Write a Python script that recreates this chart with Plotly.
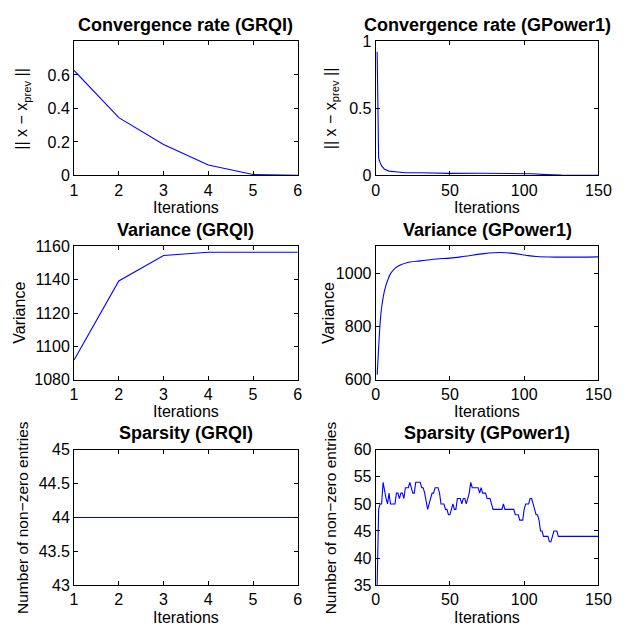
import plotly.graph_objects as go

# ---------------- data ----------------
grqi_iter = [1, 2, 3, 4, 5, 6]
grqi_conv = [0.627, 0.345, 0.185, 0.062, 0.005, 0.0]
grqi_var = [1091.9, 1139.3, 1154.6, 1156.5, 1156.5, 1156.5]
grqi_nnz = [44, 44, 44, 44, 44, 44]

gp_conv_iter = [1, 2, 3, 4, 6, 9, 15, 20, 30, 50, 70, 100, 105, 115, 125, 150]
gp_conv = [0.92, 0.13, 0.095, 0.07, 0.045, 0.032, 0.025, 0.02, 0.02, 0.015,
           0.016, 0.014, 0.012, 0.006, 0.002, 0.0]

gp_var_iter = [1, 2, 3, 4, 6, 8, 10, 13, 17, 21, 30, 41, 50, 60, 73, 84, 93,
               101, 108, 123, 150]
gp_var = [619, 720, 812, 870, 935, 972, 998, 1018, 1031, 1039, 1046, 1053,
          1056, 1063, 1073, 1077, 1074, 1067, 1062, 1060, 1061]

gp_nnz = [
    35, 49, 50, 50, 54, 52, 51, 50, 52, 50,      # 1-10
    50, 50, 50, 52, 52, 51, 52, 52, 51, 53,      # 11-20
    53, 53, 54, 53, 52, 52, 54, 54, 54, 54,      # 21-30
    53, 53, 52, 50, 49, 50, 51, 52, 52, 53,      # 31-40
    53, 53, 52, 50, 50, 50, 49, 49, 48, 48,      # 41-50
    49, 50, 49, 49, 51, 51, 51, 50, 51, 51,      # 51-60
    50, 51, 52, 54, 53, 53, 53, 53, 53, 52,      # 61-70
    53, 52, 52, 52, 51, 51, 51, 50, 49, 49,      # 71-80
    49, 49, 49, 49, 49, 50, 49, 49, 49, 49,      # 81-90
    49, 49, 49, 48, 48, 48, 47, 47, 47, 49,      # 91-100
    50, 50, 50, 51, 51, 50, 49, 48, 48, 47,      # 101-110
    45, 45, 44, 44, 44, 44, 43, 43, 44, 45,      # 111-120
    45, 45, 44, 44, 44, 44, 44, 44, 44, 44,      # 121-130
    44, 44, 44, 44, 44, 44, 44, 44, 44, 44,      # 131-140
    44, 44, 44, 44, 44, 44, 44, 44, 44, 44,      # 141-150
]
gp_nnz_iter = list(range(1, len(gp_nnz) + 1))

# tick values
x_ticks_grqi = [1, 2, 3, 4, 5, 6]
x_ticks_gp = [0, 50, 100, 150]
y_ticks_conv_grqi = [0, 0.2, 0.4, 0.6]
y_ticks_conv_gp = [0, 0.5, 1]
y_ticks_var_grqi = [1080, 1100, 1120, 1140, 1160]
y_ticks_var_gp = [600, 800, 1000]
y_ticks_nnz_grqi = [43, 43.5, 44, 44.5, 45]
y_ticks_nnz_gp = [35, 40, 45, 50, 55, 60]

titles = ["Convergence rate (GRQI)", "Convergence rate (GPower1)",
          "Variance (GRQI)", "Variance (GPower1)",
          "Sparsity (GRQI)", "Sparsity (GPower1)"]
ylabels = ["|| x − x<sub>prev</sub> ||", "|| x − x<sub>prev</sub> ||",
           "Variance", "Variance",
           "Number of non−zero entries", "Number of non−zero entries"]
xlabel = "Iterations"

# ---------------- layout geometry (page pixels) ----------------
W, H = 628, 634
cols_px = [(72, 302), (382, 611)]
rows_px = [(34, 172), (245, 382), (454, 593)]


def fx(px):
    return px / W


def fy(py):
    return 1 - py / H


FONT = "Liberation Sans, Arial, Helvetica, sans-serif"
BLUE = "#0000ff"

fig = go.Figure()

series = [
    (grqi_iter, grqi_conv), (gp_conv_iter, gp_conv),
    (grqi_iter, grqi_var), (gp_var_iter, gp_var),
    (grqi_iter, grqi_nnz), (gp_nnz_iter, gp_nnz),
]
yranges = [[0, 0.8025], [0, 1], [1080, 1160], [600, 1100], [43, 45], [35, 60]]
yticks = [y_ticks_conv_grqi, y_ticks_conv_gp, y_ticks_var_grqi, y_ticks_var_gp,
          y_ticks_nnz_grqi, y_ticks_nnz_gp]
xranges = [[1, 6], [0, 150]]
xticks = [x_ticks_grqi, x_ticks_gp]

annotations = []
for i, (xs, ys) in enumerate(series):
    r, c = divmod(i, 2)
    n = i + 1
    xa = "x" if n == 1 else f"x{n}"
    ya = "y" if n == 1 else f"y{n}"
    fig.add_trace(go.Scatter(
        x=xs, y=ys, mode="lines", xaxis=xa, yaxis=ya,
        line=dict(color=BLUE, width=1.1,
                  shape="spline" if i == 3 else "linear"),
        showlegend=False, hoverinfo="skip"))
    x0, x1 = cols_px[c]
    y0, y1 = rows_px[r]
    xd = [fx(x0), fx(x1)]
    yd = [fy(y1), fy(y0)]
    common = dict(showline=True, linecolor="black", linewidth=1, mirror="ticks",
                  ticks="inside", ticklen=4, tickcolor="black", showgrid=False,
                  zeroline=False, tickmode="array",
                  tickfont=dict(family=FONT, size=16, color="black"))
    fig.update_layout(**{
        ("xaxis" if n == 1 else f"xaxis{n}"): dict(
            domain=xd, anchor=ya, range=xranges[c], tickvals=xticks[c],
            ticktext=[f"{v:g}" for v in xticks[c]], **common),
        ("yaxis" if n == 1 else f"yaxis{n}"): dict(
            domain=yd, anchor=xa, range=yranges[i], tickvals=yticks[i],
            ticktext=[f"{v:g}" for v in yticks[i]], **common),
    })
    xc = fx((x0 + x1) / 2)
    # title
    annotations.append(dict(
        text=f"<b>{titles[i]}</b>", x=xc, y=fy(y0 - 17),
        xref="paper", yref="paper", xanchor="center", yanchor="middle",
        showarrow=False, font=dict(family=FONT, size=18, color="black")))
    # x label
    annotations.append(dict(
        text=xlabel, x=xc, y=fy(y1 + 33),
        xref="paper", yref="paper", xanchor="center", yanchor="middle",
        showarrow=False, font=dict(family=FONT, size=16, color="black")))
    # y label
    ylx = 19 if c == 0 else 336
    if i == 2:
        ylx = 16
    if i == 3:
        ylx = 333
    annotations.append(dict(
        text=ylabels[i], x=fx(ylx), y=fy((y0 + y1) / 2),
        xref="paper", yref="paper", xanchor="center", yanchor="middle",
        textangle=-90, showarrow=False,
        font=dict(family=FONT, size=16 if i < 4 else 15.5, color="black")))

fig.update_layout(
    width=W, height=H, margin=dict(l=0, r=0, t=0, b=0),
    paper_bgcolor="white", plot_bgcolor="white",
    annotations=annotations, font=dict(family=FONT, color="black"),
)

fig.write_html(
    "out.html",
    config={"displayModeBar": False},
    post_script="document.body.style.margin='0px';"
                "document.body.style.overflow='hidden';",
)
